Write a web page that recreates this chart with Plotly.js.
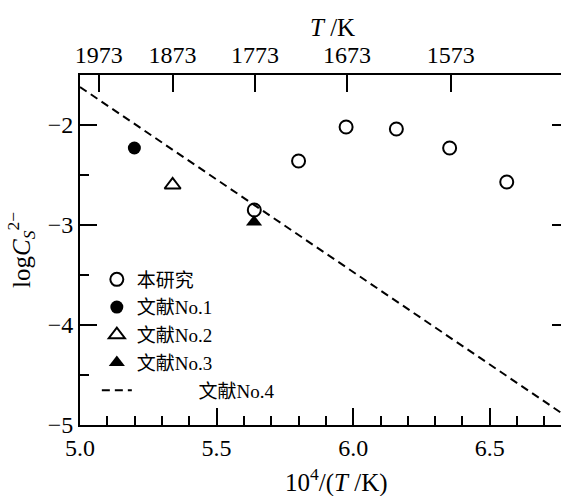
<!DOCTYPE html>
<html>
<head>
<meta charset="utf-8">
<script src="https://cdn.plot.ly/plotly-3.0.1.min.js"></script>
<style>html,body{margin:0;padding:0;background:#fff;}#chart{width:561px;height:496px;}</style>
</head>
<body>
<div id="chart"></div>
<script>
// ---- data ----
const thisX = [5.638, 5.800, 5.974, 6.158, 6.353, 6.562];
const thisY = [-2.85, -2.36, -2.02, -2.04, -2.23, -2.57];
const lit1X = [5.199];
const lit1Y = [-2.23];
const lit2X = [5.339];
const lit2Y = [-2.60];
const lit3X = [5.637];
const lit3Y = [-2.97];
const lit4X = [5.0, 6.8];
const lit4Y = [-1.62, -4.95];
const topTemps = [1973, 1873, 1773, 1673, 1573];
const names = ['本研究', '文献No.1', '文献No.2', '文献No.3', '文献No.4'];

const FONT = 'Liberation Serif, Times New Roman, Noto Sans CJK SC, serif';
const LFONT = 'Liberation Serif, Noto Sans CJK SC, serif';
const NB = '\u00a0';

const traces = [
  {x: thisX, y: thisY, name: names[0], mode: 'markers', type: 'scatter',
   marker: {symbol: 'circle-open', size: 13, color: '#000', line: {width: 2, color: '#000'}}},
  {x: lit1X, y: lit1Y, name: names[1], mode: 'markers', type: 'scatter',
   marker: {symbol: 'circle', size: 13, color: '#000'}},
  {x: lit2X, y: lit2Y, name: names[2], mode: 'markers', type: 'scatter',
   marker: {symbol: 'triangle-up-open', size: 14, color: '#000', line: {width: 2, color: '#000'}}},
  {x: lit3X, y: lit3Y, name: names[3], mode: 'markers', type: 'scatter',
   marker: {symbol: 'triangle-up', size: 14, color: '#000'}},
  {x: lit4X, y: lit4Y, name: NB.repeat(13) + names[4], mode: 'lines', type: 'scatter',
   line: {color: '#000', width: 2, dash: '8px,5px'}},
  // invisible trace to carry the top and right axes
  {x: [5.0], y: [-5], xaxis: 'x2', yaxis: 'y2', mode: 'markers', showlegend: false,
   marker: {opacity: 0}, hoverinfo: 'skip'}
];

const xr = [5.0, 6.7606];
const yr = [-5, -1.5];

const layout = {
  width: 561, height: 496,
  margin: {l: 80, r: 0, t: 75, b: 71},
  paper_bgcolor: '#fff', plot_bgcolor: '#fff',
  showlegend: true,
  legend: {x: 0.035, y: 0.47, xanchor: 'left', yanchor: 'top',
           font: {family: LFONT, size: 19, color: '#000'},
           bgcolor: 'rgba(0,0,0,0)', tracegroupgap: 0},
  xaxis: {range: xr, showgrid: false, zeroline: false, showline: true, linewidth: 2, linecolor: '#000',
          ticks: 'inside', ticklen: 17, tickwidth: 2, tickcolor: '#000',
          tickvals: [5.0, 5.5, 6.0, 6.5], ticktext: ['5.0', '5.5', '6.0', '6.5'],
          tickfont: {family: FONT, size: 24, color: '#000'},
          minor: {dtick: 0.1, ticks: 'inside', ticklen: 9, tickwidth: 2, tickcolor: '#000', showgrid: false}},
  xaxis2: {range: xr, overlaying: 'x', side: 'top', showgrid: false, zeroline: false,
           showline: true, linewidth: 2, linecolor: '#000',
           ticks: 'inside', ticklen: 17, tickwidth: 2, tickcolor: '#000',
           tickvals: topTemps.map(t => 1e4 / t), ticktext: topTemps.map(String),
           tickfont: {family: FONT, size: 24, color: '#000'}},
  yaxis: {range: yr, showgrid: false, zeroline: false, showline: true, linewidth: 2, linecolor: '#000',
          ticks: 'inside', ticklen: 17, tickwidth: 2, tickcolor: '#000',
          tickvals: [-5, -4, -3, -2],
          tickfont: {family: FONT, size: 24, color: '#000'},
          minor: {dtick: 0.5, tick0: -5, ticks: 'inside', ticklen: 9, tickwidth: 2, tickcolor: '#000', showgrid: false},
          title: {text: 'log<i>C</i><sub><i>S</i></sub><sup>2−</sup>', standoff: 10,
                  font: {family: FONT, size: 25, color: '#000'}}},
  yaxis2: {range: yr, overlaying: 'y', side: 'right', showgrid: false, zeroline: false, showline: false,
           ticks: 'inside', ticklen: 9, tickwidth: 2, tickcolor: '#000',
           tickvals: [-4, -3, -2], showticklabels: false},
  annotations: [
    {text: '10<sup>4</sup>/(<i>T</i> /K)', xref: 'paper', yref: 'paper', x: 0.534, y: -0.158,
     xanchor: 'center', yanchor: 'middle', showarrow: false,
     font: {family: FONT, size: 25, color: '#000'}},
    {text: '<i>T</i> /K', xref: 'paper', yref: 'paper', x: 0.524, y: 1.135,
     xanchor: 'center', yanchor: 'middle', showarrow: false,
     font: {family: FONT, size: 25, color: '#000'}}
  ]
};

Plotly.newPlot('chart', traces, layout, {staticPlot: true, displayModeBar: false});
</script>
</body>
</html>
